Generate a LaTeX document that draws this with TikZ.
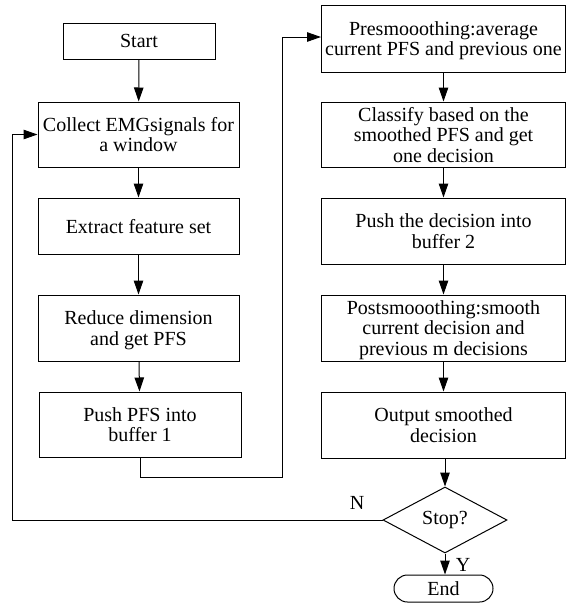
\documentclass[tikz,border=0pt]{standalone}
\usepackage{fontspec}
\setmainfont{Liberation Serif}
\usetikzlibrary{shapes.geometric,shapes.misc,arrows.meta}
\begin{document}
\begin{tikzpicture}[x=1pt,y=-1pt,
  every node/.style={font=\fontsize{20pt}{20.5pt}\selectfont},
  box/.style={draw,line width=1pt,rectangle,inner sep=0pt,align=center,text depth=0pt},
  arr/.style={line width=1pt,-{Triangle[length=14pt,width=9.5pt]}},
  ln/.style={line width=1pt}]
\useasboundingbox (0,0) rectangle (566,603);
% left column
\node[box,minimum width=152pt,minimum height=36pt] (start) at (139,41) {Start};
\node[box,minimum width=201pt,minimum height=65pt] (collect) at (138.5,134.5) {Collect EMGsignals for\\a window};
\node[box,minimum width=201pt,minimum height=56pt] (extract) at (138.5,226) {Extract feature set};
\node[box,minimum width=201pt,minimum height=66pt] (reduce) at (138.5,328) {Reduce dimension\\and get PFS};
\node[box,minimum width=202pt,minimum height=65pt] (pushpfs) at (140,424.5) {Push PFS into\\buffer 1};
% right column
\node[box,minimum width=244pt,minimum height=67pt] (pre) at (443.5,38.5) {Presmooothing:average\\current PFS and previous one};
\node[box,minimum width=244pt,minimum height=65pt] (classify) at (443.5,134.5) {Classify based on the\\smoothed PFS and get\\one decision};
\node[box,minimum width=244pt,minimum height=66pt] (pushdec) at (443.5,231) {Push the decision into\\buffer 2};
\node[box,minimum width=244pt,minimum height=66pt] (post) at (443.5,328) {Postsmooothing:smooth\\current decision and\\previous m decisions};
\node[box,minimum width=244pt,minimum height=66pt] (output) at (443.5,425) {Output smoothed\\decision};
\node[draw,line width=1pt,diamond,aspect=1.88,inner sep=0pt,minimum width=124pt,minimum height=66pt] (stop) at (445,520) {Stop?};
\node[draw,line width=1pt,rounded rectangle,inner sep=0pt,minimum width=99pt,minimum height=27pt] (end) at (443.5,588.5) {End};
% coordinates
\coordinate (c1) at (140,477);
\coordinate (c2) at (282,477);
\coordinate (c3) at (282,37);
\coordinate (d1) at (12,520);
\coordinate (d2) at (12,134.5);
% connectors
\draw[arr] (start) -- (collect);
\draw[arr] (collect) -- (extract);
\draw[arr] (extract) -- (reduce);
\draw[arr] (reduce) -- (pushpfs);
\draw[arr] (pushpfs.south) -- (c1) -- (c2) -- (c3) -- (pre.west |- c3);
\draw[arr] (pre) -- (classify);
\draw[arr] (classify) -- (pushdec);
\draw[arr] (pushdec) -- (post);
\draw[arr] (post) -- (output);
\draw[arr] (output.south -| stop.north) -- (stop.north);
\draw[arr] (stop.south) -- (stop.south |- end.north);
\draw[arr] (stop.west) -- (d1) -- (d2) -- (collect.west);
% labels
\node (nlab) at (357,503) {N};
\node (ylab) at (463,565) {Y};
\end{tikzpicture}
\end{document}
